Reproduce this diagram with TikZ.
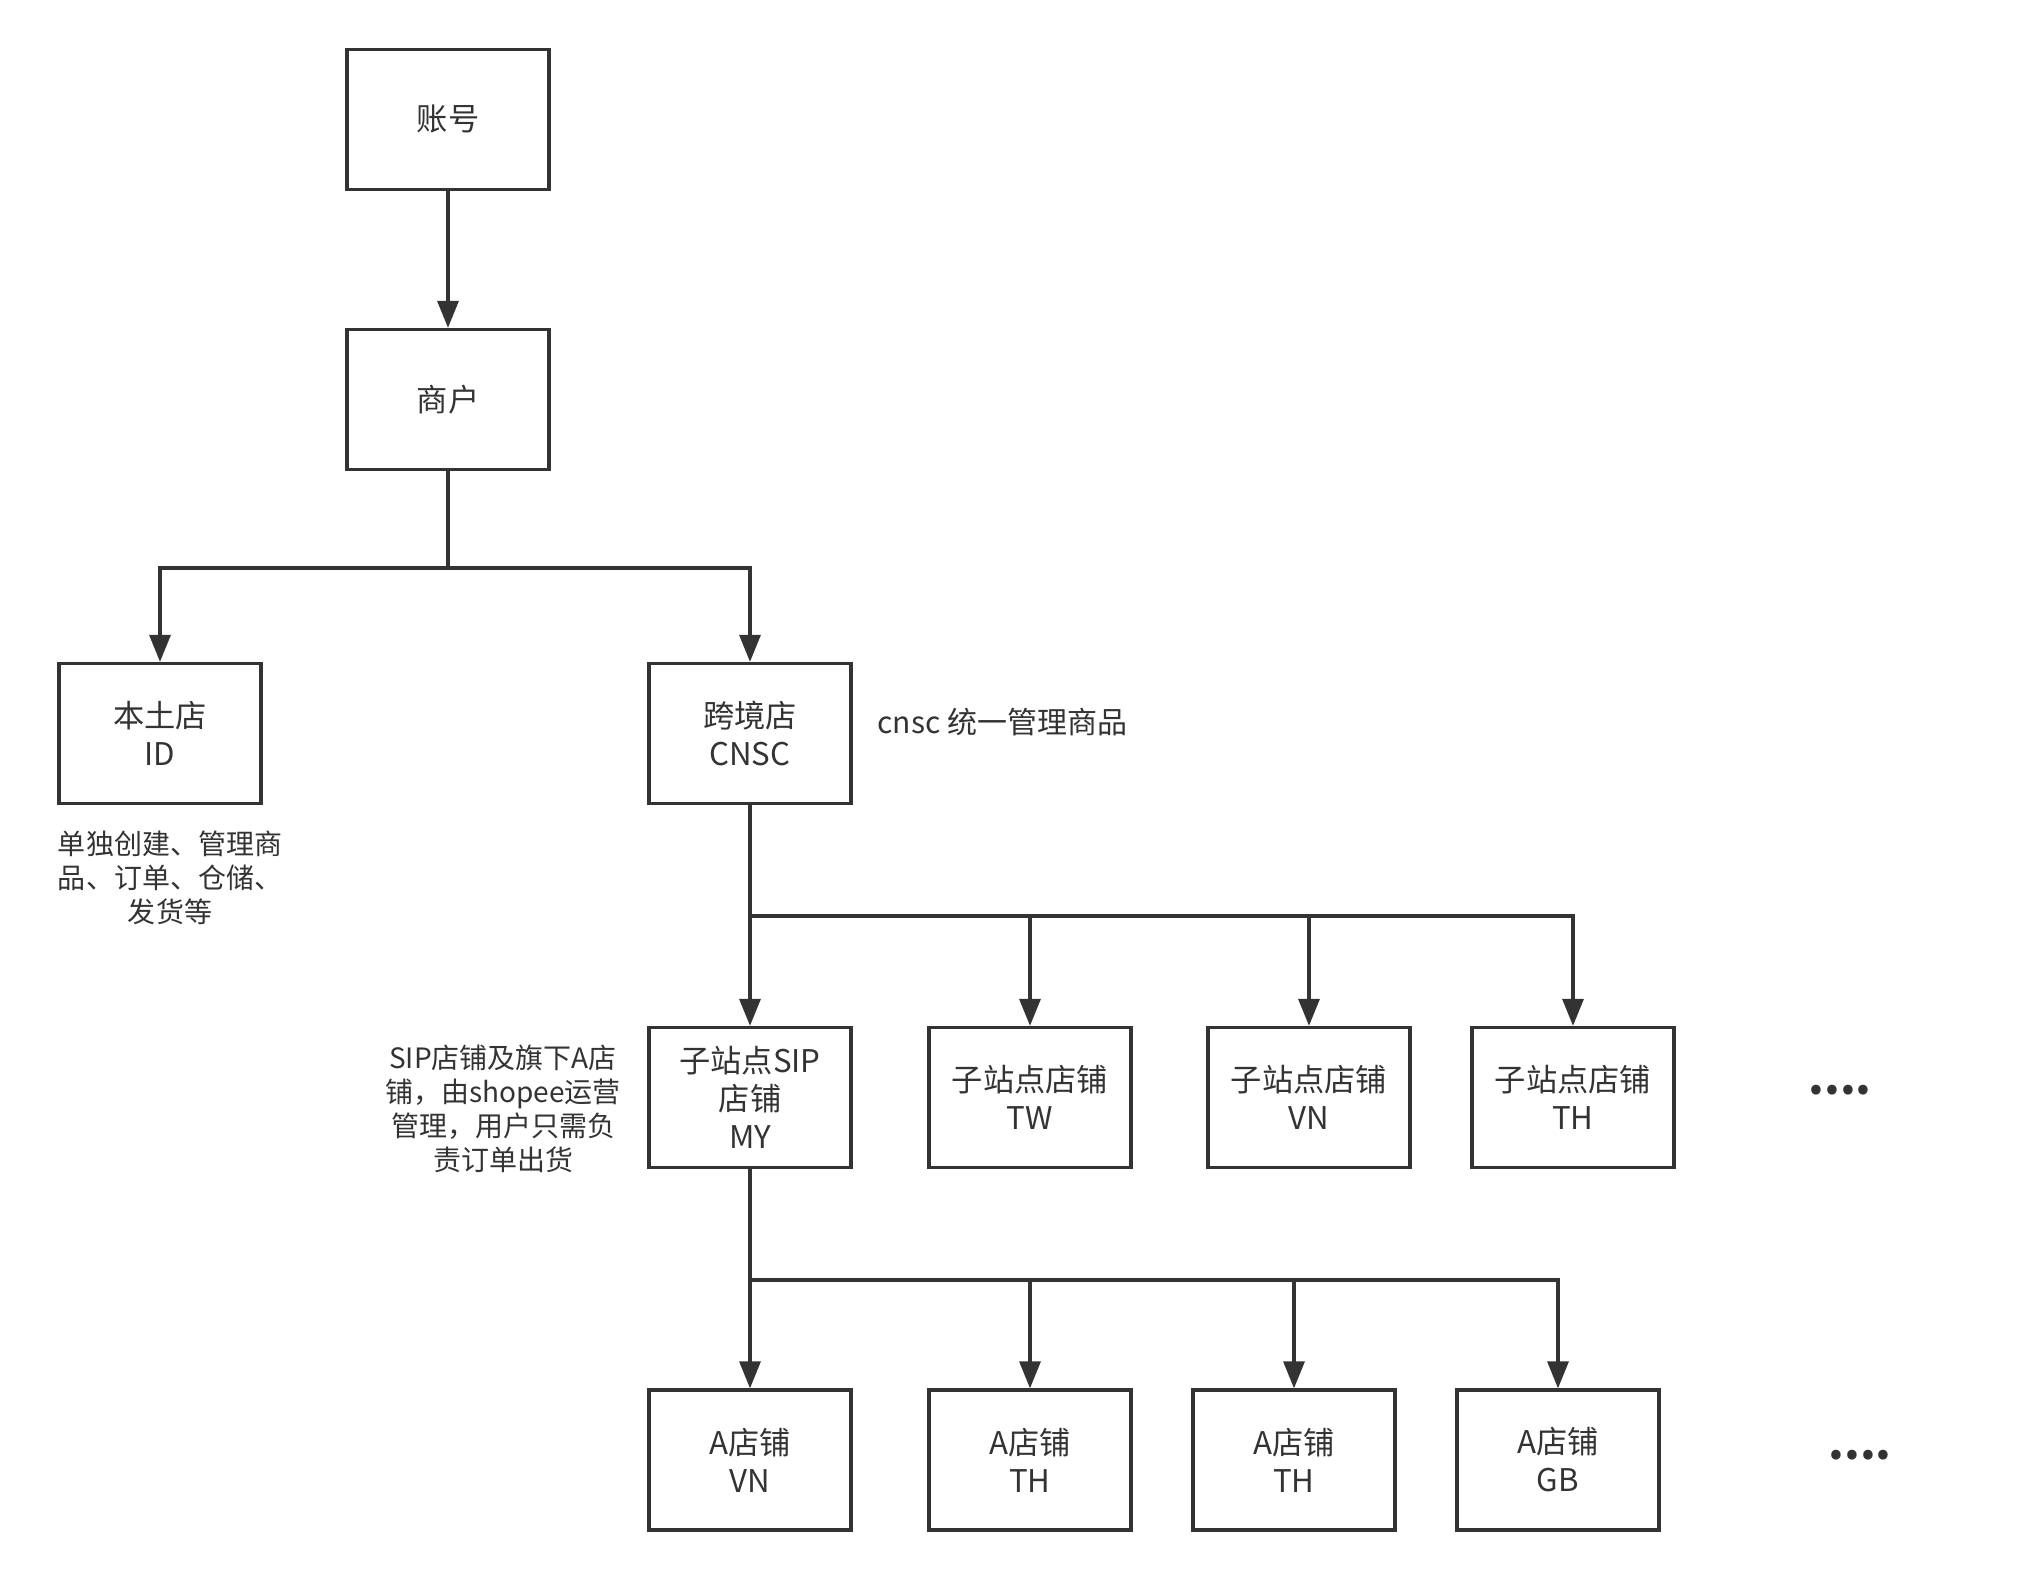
\documentclass[tikz,border=0pt]{standalone}
\usepackage{fontspec}
\setmainfont{Noto Sans CJK SC}
\usetikzlibrary{arrows.meta}
\definecolor{ink}{HTML}{333333}

\begin{document}
\begin{tikzpicture}[x=0.4pt,y=-0.4pt,
  box/.style={draw=ink, line width=1.33pt, minimum width=80.8pt, minimum height=56pt,
    inner sep=0pt, align=center, text=ink, font=\fontsize{12.5}{15.2}\selectfont},
  note/.style={inner sep=0pt, align=center, text=ink, font=\fontsize{11.2}{13.6}\selectfont},
  link/.style={draw=ink, line width=1.33pt, -{Triangle[length=10.8pt,width=8.4pt]}},
  more/.style={inner sep=0pt, anchor=base, text=ink, font=\fontsize{18}{18}\selectfont\bfseries}]
  \useasboundingbox (0,0) rectangle (2028,1582);

  % Account and merchant
  \node[box] (acct) at (448,119.5) {账号};
  \node[box] (merch) at (448,399.5) {商户};

  % Shops
  \node[box] (local) at (160,733.5) {本土店\\ID};
  \node[box] (cross) at (750,733.5) {跨境店\\CNSC};

  % Sub sites
  \node[box] (sipmy) at (750,1097.5) {子站点SIP\\店铺\\MY};
  \node[box] (subtw) at (1030,1097.5) {子站点店铺\\TW};
  \node[box] (subvn) at (1309,1097.5) {子站点店铺\\VN};
  \node[box] (subth) at (1573,1097.5) {子站点店铺\\TH};

  % A shops
  \node[box] (avn) at (750,1460) {A店铺\\VN};
  \node[box] (ath) at (1030,1460) {A店铺\\TH};
  \node[box] (athb) at (1294,1460) {A店铺\\TH};
  \node[box] (agb) at (1558,1460) {A店铺\\GB};

  % Forks
  \coordinate (fork1) at (448,568);
  \coordinate (fork2) at (750,916);
  \coordinate (fork3) at (750,1280);

  % Arrows
  \draw[link] (acct) -- (merch);
  \draw[link] (merch) -- (fork1) -| (local);
  \draw[link] (fork1) -| (cross);
  \draw[link] (cross) -- (fork2) -- (sipmy);
  \foreach \n in {subtw,subvn,subth}
    \draw[link] (fork2) -| (\n);
  \draw[link] (sipmy) -- (fork3) -- (avn);
  \foreach \n in {ath,athb,agb}
    \draw[link] (fork3) -| (\n);

  % Labels
  \node[note] (localnote) at (170,878) {单独创建、管理商\\品、订单、仓储、\\发货等};
  \node[note] (sipnote) at (503,1109) {SIP店铺及旗下A店\\铺，由shopee运营\\管理，用户只需负\\责订单出货};
  \node[note, anchor=west, font=\fontsize{12}{14}\selectfont] (cnscnote) at (877,722) {cnsc 统一管理商品};
  \node[more] (moresub) at (1840,1094) {....};
  \node[more] (morea) at (1860,1459) {....};
\end{tikzpicture}
\end{document}
